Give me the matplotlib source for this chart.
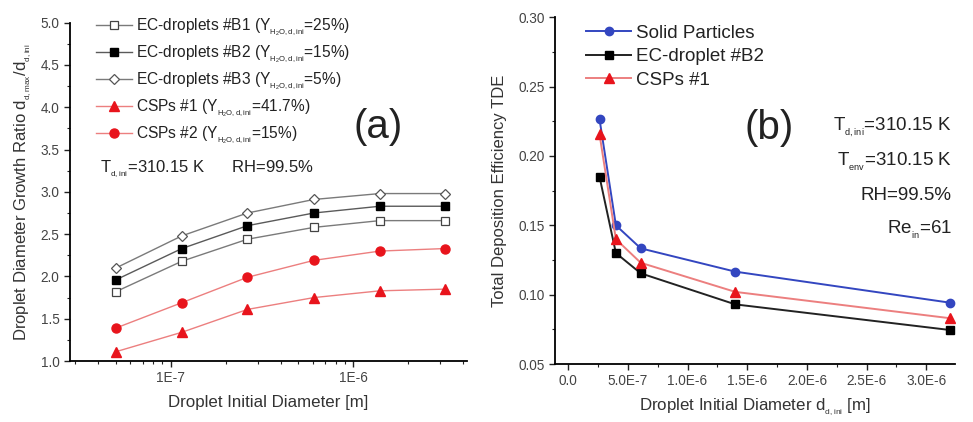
import matplotlib
matplotlib.use("Agg")
import matplotlib.pyplot as plt
import numpy as np
from matplotlib.ticker import LogLocator, NullFormatter, FixedLocator, FixedFormatter, MultipleLocator, FuncFormatter

plt.rcParams['font.family'] = ['Liberation Sans', 'DejaVu Sans']
plt.rcParams['mathtext.fontset'] = 'custom'
plt.rcParams['mathtext.rm'] = 'Liberation Sans'
plt.rcParams['mathtext.it'] = 'Liberation Sans'

# ---- Panel (a) data ----
d_a = [5.0e-8, 1.15e-7, 2.63e-7, 6.08e-7, 1.4e-6, 3.2e-6]
b1 = [1.82, 2.18, 2.44, 2.58, 2.66, 2.66]
b2 = [1.96, 2.33, 2.60, 2.75, 2.83, 2.83]
b3 = [2.10, 2.48, 2.75, 2.91, 2.98, 2.98]
csp1 = [1.11, 1.34, 1.61, 1.75, 1.83, 1.85]
csp2 = [1.39, 1.69, 1.99, 2.19, 2.30, 2.33]

SUB = r'$_{{}_{\mathrm{H_2O,d,ini}}}$'
labels_a = ['EC-droplets #B1 (Y' + SUB + '=25%)',
            'EC-droplets #B2 (Y' + SUB + '=15%)',
            'EC-droplets #B3 (Y' + SUB + '=5%)',
            'CSPs #1 (Y' + SUB + '=41.7%)',
            'CSPs #2 (Y' + SUB + '=15%)']

# ---- Panel (b) data ----
d_b = [2.63e-7, 4.0e-7, 6.08e-7, 1.4e-6, 3.2e-6]
solid = [0.2265, 0.150, 0.1334, 0.1166, 0.0942]
ecb2 = [0.185, 0.130, 0.1154, 0.093, 0.0745]
cspb1 = [0.2156, 0.140, 0.123, 0.102, 0.083]
labels_b = ['Solid Particles', 'EC-droplet #B2', 'CSPs #1']
xticks_b = [0.0, 5.0e-7, 1.0e-6, 1.5e-6, 2.0e-6, 2.5e-6, 3.0e-6]
xticklabels_b = ['0.0', '5.0E-7', '1.0E-6', '1.5E-6', '2.0E-6', '2.5E-6', '3.0E-6']

fig = plt.figure(figsize=(9.73, 4.22), dpi=100)
ax1 = fig.add_axes([0.0719, 0.1445, 0.408, 0.8017])
ax2 = fig.add_axes([0.5704, 0.1374, 0.4111, 0.8216])

gray = '#7a7a7a'
red = '#e8141c'
redline = '#ec7f7f'
blue = '#3346c0'
txt = '#222222'

ms = 5.5
ax1.plot(d_a, b1, '-', color=gray, lw=1.0, marker='s', ms=ms, mfc='white', mec='#444444', mew=0.9, label=labels_a[0])
ax1.plot(d_a, b2, '-', color='#5a5a5a', lw=1.0, marker='s', ms=ms, mfc='black', mec='black', label=labels_a[1])
ax1.plot(d_a, b3, '-', color=gray, lw=1.0, marker='D', ms=ms - 0.8, mfc='white', mec='#555555', mew=0.9, label=labels_a[2])
ax1.plot(d_a, csp1, '-', color=redline, lw=1.0, marker='^', ms=ms + 1, mfc=red, mec=red, label=labels_a[3])
ax1.plot(d_a, csp2, '-', color=redline, lw=1.0, marker='o', ms=ms + 1, mfc=red, mec=red, label=labels_a[4])

ax1.set_xscale('log')
ax1.set_xlim(2.8e-8, 4.2e-6)
ax1.set_ylim(1.0, 5.0)
ax1.xaxis.set_major_locator(FixedLocator([1e-7, 1e-6]))
ax1.xaxis.set_major_formatter(FixedFormatter(['1E-7', '1E-6']))
ax1.xaxis.set_minor_locator(LogLocator(base=10, subs=np.arange(2, 10)))
ax1.xaxis.set_minor_formatter(NullFormatter())
ax1.yaxis.set_major_locator(MultipleLocator(0.5))
ax1.yaxis.set_minor_locator(MultipleLocator(0.25))
ax1.yaxis.set_major_formatter(FuncFormatter(lambda v, p: f'{v:.1f}'))

for ax in (ax1, ax2):
    ax.spines['top'].set_visible(False)
    ax.spines['right'].set_visible(False)
    ax.spines['left'].set_linewidth(1.3)
    ax.spines['bottom'].set_linewidth(1.3)
    ax.tick_params(axis='both', which='major', direction='out', length=4, width=1.0, labelsize=9.8, colors='#222222', labelcolor='#444444')
    ax.tick_params(axis='both', which='minor', direction='out', length=2.5, width=0.8, colors='#222222')

ax1.set_xlabel('Droplet Initial Diameter [m]', fontsize=12.2, color='#333333', labelpad=7)
ax1.set_ylabel(r'Droplet Diameter Growth Ratio d$_{{}_{\mathrm{d,max}}}$/d$_{{}_{\mathrm{d,ini}}}$', fontsize=12, color='#333333', labelpad=5)

leg1 = ax1.legend(loc='upper left', bbox_to_anchor=(0.05, 1.038), frameon=False, fontsize=11.2,
                  labelspacing=0.335, handlelength=2.3, handletextpad=0.25, borderaxespad=0.0)
for t in leg1.get_texts():
    t.set_color(txt)

ax1.text(0.075, 0.566, r'T$_{{}_{\mathrm{d,ini}}}$=310.15 K      RH=99.5%', transform=ax1.transAxes, fontsize=12, color=txt, va='center')
ax1.text(0.715, 0.692, '(a)', transform=ax1.transAxes, fontsize=29, color=txt, va='center')

# ---- Panel (b) ----
ax2.plot(d_b, solid, '-', color=blue, lw=1.4, marker='o', ms=6, mfc=blue, mec=blue, label=labels_b[0])
ax2.plot(d_b, ecb2, '-', color='#222222', lw=1.4, marker='s', ms=5.5, mfc='black', mec='black', label=labels_b[1])
ax2.plot(d_b, cspb1, '-', color=redline, lw=1.4, marker='^', ms=6.5, mfc=red, mec=red, label=labels_b[2])

ax2.set_xlim(-1.1e-7, 3.24e-6)
ax2.set_ylim(0.05, 0.30)
ax2.xaxis.set_major_locator(FixedLocator(xticks_b))
ax2.xaxis.set_major_formatter(FixedFormatter(xticklabels_b))
ax2.xaxis.set_minor_locator(MultipleLocator(2.5e-7))
ax2.yaxis.set_major_locator(MultipleLocator(0.05))
ax2.yaxis.set_minor_locator(MultipleLocator(0.025))
ax2.yaxis.set_major_formatter(FuncFormatter(lambda v, p: f'{v:.2f}'))

ax2.set_xlabel(r'Droplet Initial Diameter d$_{{}_{\mathrm{d,ini}}}$ [m]', fontsize=12.2, color='#333333', labelpad=6)
ax2.set_ylabel('Total Deposition Efficiency TDE', fontsize=12, color='#333333', labelpad=8)

leg2 = ax2.legend(loc='upper left', bbox_to_anchor=(0.06, 1.0), frameon=False, fontsize=13.5,
                  labelspacing=0.33, handlelength=2.4, handletextpad=0.25, borderaxespad=0.0)
for t in leg2.get_texts():
    t.set_color(txt)

ax2.text(0.475, 0.681, '(b)', transform=ax2.transAxes, fontsize=29, color=txt, va='center')
ax2.text(0.9925, 0.681, r'T$_{{}_{\mathrm{d,ini}}}$=310.15 K', transform=ax2.transAxes, fontsize=13.5, color=txt, ha='right', va='center')
ax2.text(0.9925, 0.583, r'T$_{{}_{\mathrm{env}}}$=310.15 K', transform=ax2.transAxes, fontsize=13.5, color=txt, ha='right', va='center')
ax2.text(0.9925, 0.485, 'RH=99.5%', transform=ax2.transAxes, fontsize=13.5, color=txt, ha='right', va='center')
ax2.text(0.9925, 0.387, r'Re$_{{}_{\mathrm{in}}}$=61', transform=ax2.transAxes, fontsize=13.5, color=txt, ha='right', va='center')

fig.savefig('out.png', dpi=100)
